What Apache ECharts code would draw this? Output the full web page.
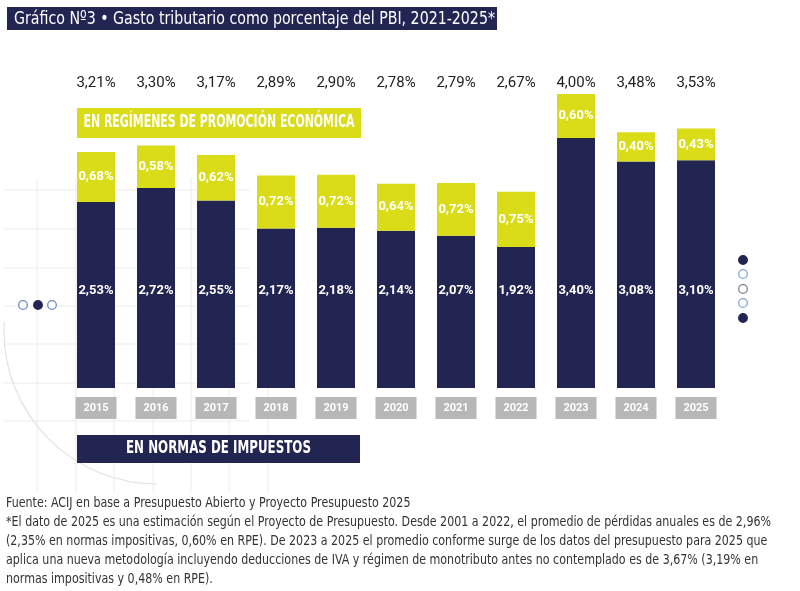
<!DOCTYPE html>
<html><head><meta charset="utf-8">
<script src="https://cdn.jsdelivr.net/npm/echarts@6/dist/echarts.min.js"></script>
<style>html,body{margin:0;padding:0;background:#fff}#c{width:800px;height:591px}</style>
</head><body><div id="c"></div>
<script>
const years = ['2015','2016','2017','2018','2019','2020','2021','2022','2023','2024','2025'];
const normas = [2.53, 2.72, 2.55, 2.17, 2.18, 2.14, 2.07, 1.92, 3.40, 3.08, 3.10];
const rpe = [0.68, 0.58, 0.62, 0.72, 0.72, 0.64, 0.72, 0.75, 0.60, 0.40, 0.43];
const totals = [3.21, 3.30, 3.17, 2.89, 2.90, 2.78, 2.79, 2.67, 4.00, 3.48, 3.53];

const title = 'Gráfico Nº3 • Gasto tributario como porcentaje del PBI, 2021-2025*';
const legendRpe = 'EN REGÍMENES DE PROMOCIÓN ECONÓMICA';
const legendNormas = 'EN NORMAS DE IMPUESTOS';
const footer = [
  'Fuente: ACIJ en base a Presupuesto Abierto y Proyecto Presupuesto 2025',
  '*El dato de 2025 es una estimación según el Proyecto de Presupuesto. Desde 2001 a 2022, el promedio de pérdidas anuales es de 2,96%',
  '(2,35% en normas impositivas, 0,60% en RPE). De 2023 a 2025 el promedio conforme surge de los datos del presupuesto para 2025 que',
  'aplica una nueva metodología incluyendo deducciones de IVA y régimen de monotributo antes no contemplado es de 3,67% (3,19% en',
  'normas impositivas y 0,48% en RPE).'
];

const NAVY = '#222552', YEL = '#d9dc16', GREY = '#b7b7b7';
const FF = "'DejaVu Sans Condensed','Roboto',sans-serif";
const FN = "'Roboto','DejaVu Sans Condensed',sans-serif";
const fmt = v => v.toFixed(2).replace('.', ',') + '%';

const mctx = document.createElement('canvas').getContext('2d');
function fitScale(text, weight, size, target) {
  mctx.font = weight + ' ' + size + 'px ' + FF;
  return target / mctx.measureText(text).width;
}

const chart = echarts.init(document.getElementById('c'), null, {renderer: 'canvas'});

// background decoration (faint grid + arc)
const decor = [];
const lc = '#ececec';
[190, 229, 268, 306, 344, 383, 421].forEach(y => decor.push({type:'line', z:-5, shape:{x1:4,y1:y,x2:250,y2:y}, style:{stroke:lc, lineWidth:1}}));
[37, 76, 114, 153, 191, 229, 268].forEach(x => decor.push({type:'line', z:-5, shape:{x1:x,y1:178,x2:x,y2:492}, style:{stroke:lc, lineWidth:1}}));
decor.push({type:'arc', z:-5, shape:{cx:157, cy:331, r:153, startAngle:Math.PI/2, endAngle:Math.PI*1.02}, style:{stroke:'#e2e2e2', lineWidth:1.2, fill:null}});

const dots = [];
[[23,'o','#6b8cc4'],[38,'f',NAVY],[52,'o','#6b8cc4']].forEach(d => dots.push({type:'circle', shape:{cx:d[0], cy:305, r:4.3}, style:{fill:d[1]==='f'?NAVY:'#fff', stroke:d[2], lineWidth:1.3}}));
[[260,'f',NAVY],[274,'o','#7fa6d6'],[289,'o','#7d8090'],[303,'o','#7fa6d6'],[318,'f',NAVY]].forEach(d => dots.push({type:'circle', shape:{cx:743, cy:d[0], r:4.3}, style:{fill:d[1]==='f'?NAVY:'#fff', stroke:d[2], lineWidth:1.3}}));

const titleScale = fitScale(title, 'normal', 18, 481);
const footScale = fitScale(footer[1], 'normal', 13.5, 765);
const rpeScale = fitScale(legendRpe, 'bold', 17, 271);
const normScale = fitScale(legendNormas, 'bold', 17, 185);

const option = {
  backgroundColor: '#fff',
  animation: false,
  grid: {left: 66, right: 74, top: 94, bottom: 203, containLabel: false},
  xAxis: [
    {type:'category', data: years, position:'bottom',
     axisLine:{show:false}, axisTick:{show:false}, splitLine:{show:false},
     axisLabel:{margin:9, backgroundColor:GREY, width:41, height:22, lineHeight:22, align:'center',
       color:'#fff', fontWeight:'bold', fontSize:11, fontFamily:FN}},
    {type:'category', data: years, position:'top',
     axisLine:{show:false}, axisTick:{show:false}, splitLine:{show:false},
     axisLabel:{margin:3, color:'#222', fontSize:15, fontFamily:FN,
       formatter:(v, i) => fmt(totals[i])}}
  ],
  yAxis: {type:'value', min:0, max:4, show:false, splitLine:{show:false}},
  series: [
    {name:'normas', type:'bar', stack:'t', data: normas, barWidth:38, xAxisIndex:0,
     itemStyle:{color:NAVY},
     label:{show:true, position:'insideBottom', distance:91, color:'#fff', fontSize:13, fontWeight:'bold', fontFamily:FN,
       formatter:p => fmt(p.value)}},
    {name:'rpe', type:'bar', stack:'t', data: rpe, barWidth:38, xAxisIndex:0,
     itemStyle:{color:YEL},
     label:{show:true, position:'inside', color:'#fff', fontSize:13, fontWeight:'bold', fontFamily:FN,
       formatter:p => fmt(p.value)}}
  ],
  graphic: [
    ...decor,
    {type:'rect', shape:{x:7, y:7, width:490, height:23}, style:{fill:NAVY}},
    {type:'text', x:14, y:19, scaleX:titleScale, style:{text:title, fill:'#fff', fontSize:18, fontFamily:FF, verticalAlign:'middle'}},
    {type:'rect', shape:{x:77, y:108, width:284, height:30}, style:{fill:YEL}},
    {type:'text', x:219, y:123, scaleX:rpeScale, style:{text:legendRpe, fill:'#fff', fontSize:17, fontWeight:'bold', fontFamily:FF, align:'center', verticalAlign:'middle'}},
    {type:'rect', shape:{x:77, y:435, width:283, height:28}, style:{fill:NAVY}},
    {type:'text', x:218.5, y:449, scaleX:normScale, style:{text:legendNormas, fill:'#fff', fontSize:17, fontWeight:'bold', fontFamily:FF, align:'center', verticalAlign:'middle'}},
    ...dots,
    ...footer.map((t, i) => ({type:'text', x:6, y:503 + i*19.2, scaleX:footScale, style:{text:t, fill:'#333', fontSize:13.5, fontFamily:FF, verticalAlign:'middle'}}))
  ]
};
chart.setOption(option);
</script>
</body></html>
